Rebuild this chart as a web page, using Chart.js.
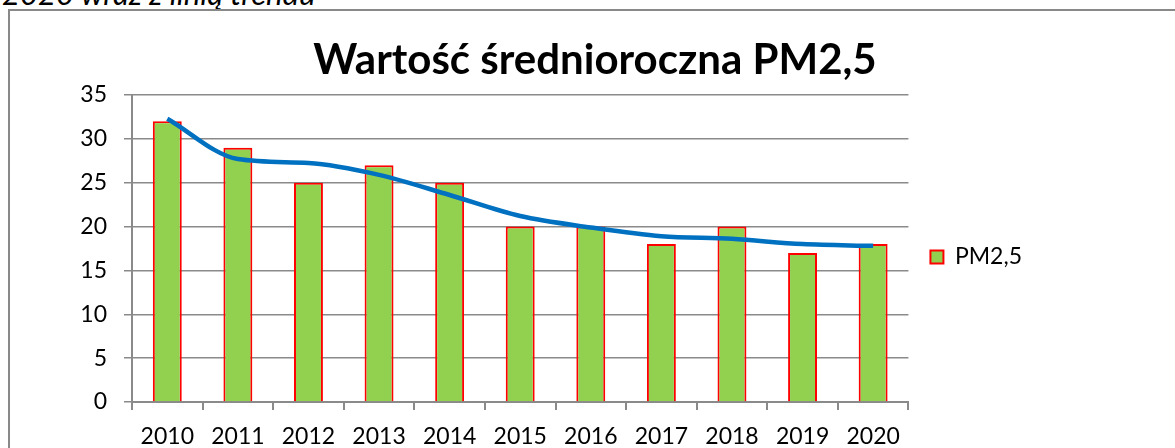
<!DOCTYPE html>
<html lang="pl">
<head>
<meta charset="utf-8">
<script src="https://cdn.jsdelivr.net/npm/chart.js@4.4.1/dist/chart.umd.min.js"></script>
<style>
  html, body { margin: 0; padding: 0; background: #fff; overflow: hidden; }
  body { width: 1175px; height: 448px; position: relative; font-family: Lato, sans-serif; }
  .podpis { position: absolute; left: 2px; top: -22px; font-style: italic; font-size: 31px; line-height: 30px; color: #000; white-space: nowrap; }
  .ramka { position: absolute; left: 8px; top: 9px; width: 1200px; height: 500px; border-left: 2px solid #898989; border-top: 2px solid #898989; }
  #wykres { position: absolute; left: 0; top: 0; width: 1175px; height: 448px; }
</style>
</head>
<body>
<div class="podpis">2020 wraz z linią trendu</div>
<div class="ramka"></div>
<div id="wykres"><canvas id="pmChart"></canvas></div>
<script>
const lata = ['2010', '2011', '2012', '2013', '2014', '2015', '2016', '2017', '2018', '2019', '2020'];
const pm25 = [32, 29, 25, 27, 25, 20, 20, 18, 20, 17, 18];
// linia trendu (wielomianowa) odczytana w punktach lat
const trend = [32.3, 27.7, 27.25, 25.9, 23.6, 21.2, 19.9, 18.9, 18.6, 18.0, 17.8];
const osY = { min: 0, max: 35, krok: 5 };

Chart.defaults.font.family = 'Lato, sans-serif';
Chart.defaults.color = '#000';

const szaryGrid = '#8a8a8a';

// tytul wysrodkowany nad calym obszarem, legenda nieco nizej
const przesuniecia = {
    id: 'przesuniecia',
    afterLayout(chart) {
        if (chart.legend) {
            chart.legend.top += 33;
            chart.legend.bottom += 33;
        }
        if (chart.titleBlock) {
            chart.titleBlock.left += 71.5;
            chart.titleBlock.right += 71.5;
        }
    }
};

new Chart(document.getElementById('pmChart'), {
    data: {
        labels: lata,
        datasets: [{
            type: 'line',
            label: 'trend',
            data: trend,
            borderColor: '#0070C0',
            borderWidth: 4.5,
            pointRadius: 0,
            cubicInterpolationMode: 'monotone',
            fill: false,
            order: 0
        }, {
            type: 'bar',
            label: 'PM2,5',
            data: pm25,
            backgroundColor: '#92D050',
            borderColor: '#FF0000',
            borderWidth: 2,
            categoryPercentage: 1,
            barPercentage: 0.41,
            order: 1
        }]
    },
    options: {
        responsive: true,
        maintainAspectRatio: false,
        animation: false,
        layout: { padding: { left: 15, right: 143, top: 0, bottom: 0 } },
        plugins: {
            title: {
                display: true,
                text: 'Wartość średnioroczna PM2,5',
                font: { size: 42, weight: 'bold' },
                color: '#000',
                padding: { top: 35, bottom: 9.6 }
            },
            legend: {
                position: 'right',
                labels: {
                    filter: item => item.text !== 'trend',
                    boxWidth: 13,
                    boxHeight: 13,
                    padding: 22,
                    font: { size: 23 }
                }
            },
            tooltip: { enabled: false }
        },
        scales: {
            x: {
                offset: true,
                grid: { drawOnChartArea: false, drawTicks: true, tickLength: 8, color: szaryGrid, lineWidth: 2 },
                border: { color: szaryGrid, width: 2 },
                ticks: { font: { size: 23 }, padding: 13, maxRotation: 0 },
                afterFit(scale) { scale.height = 46; }
            },
            y: {
                min: osY.min,
                max: osY.max,
                ticks: { stepSize: osY.krok, font: { size: 23 }, padding: 17 },
                grid: { color: szaryGrid, lineWidth: 1.5, tickLength: 8 },
                border: { color: szaryGrid, width: 2 },
                afterFit(scale) { scale.width = 117; }
            }
        }
    },
    plugins: [przesuniecia]
});
</script>
</body>
</html>
